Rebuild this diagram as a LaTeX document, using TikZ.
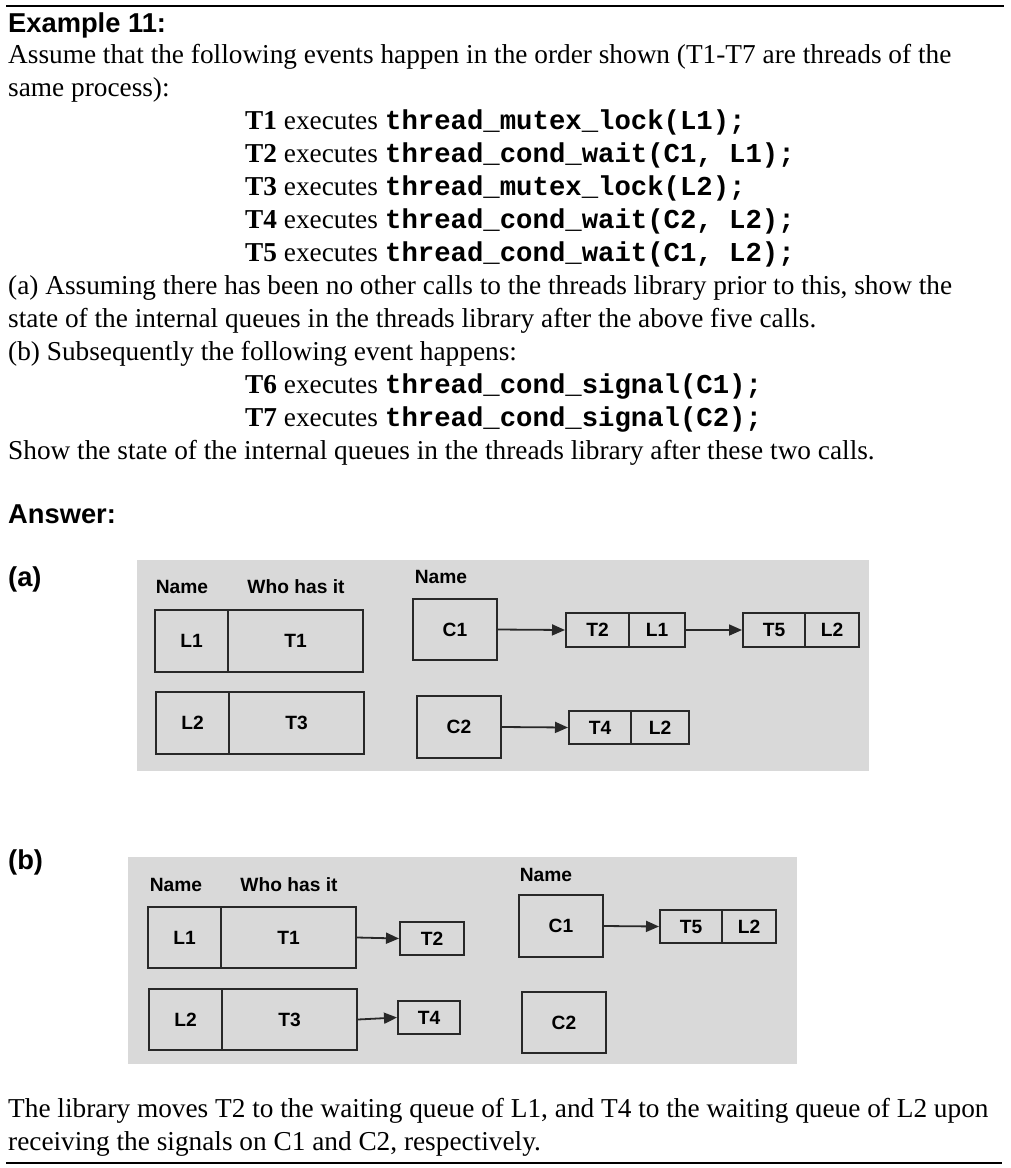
\documentclass[tikz,border=0pt]{standalone}
\usepackage{fontspec}
\setmainfont{Liberation Serif}
\newfontfamily\arialf{Liberation Sans}
\newfontfamily\monof{Liberation Mono}
\usetikzlibrary{arrows.meta}
\definecolor{panelc}{RGB}{217,217,217}
\definecolor{boxc}{RGB}{40,40,40}
\begin{document}
\begin{tikzpicture}[x=1pt,y=-1pt,
  txt/.style={anchor=base west, inner sep=0pt, font=\fontsize{27.3}{33}\selectfont},
  code/.style={anchor=base west, inner sep=0pt, font=\monof\bfseries\fontsize{27.3}{33}\selectfont},
  head/.style={anchor=base west, inner sep=0pt, font=\arialf\bfseries\fontsize{27.3}{33}\selectfont},
  lab/.style={anchor=base, inner sep=0pt, font=\arialf\bfseries\fontsize{19.2}{22}\selectfont},
  cell/.style={draw=boxc, line width=2pt, inner sep=0pt, font=\arialf\bfseries\fontsize{19.2}{22}\selectfont},
  conn/.style={line width=1.8pt, draw=boxc, -{Triangle[length=13pt,width=11pt]}},
  rulel/.style={line width=2.2pt, draw=black}]
\useasboundingbox (0,0) rectangle (1010,1168);
\fill[white] (0,0) rectangle (1010,1168);

% rules
\draw[rulel] (6,6) -- (1004,6);
\draw[rulel] (6,1163) -- (1002,1163);

% header and question text
\node[head] (ex) at (8,32.7) {Example 11:};
\node[txt] (q1) at (8,63) {Assume that the following events happen in the order shown (T1-T7 are threads of the};
\node[txt] (q2) at (8,96) {same process):};
\node[txt] (e1) at (245,129) {\textbf{T1} executes};
\node[code] (c1) at (385,129) {thread\_mutex\_lock(L1);};
\node[txt] (e2) at (245,162) {\textbf{T2} executes};
\node[code] (c2) at (385,162) {thread\_cond\_wait(C1, L1);};
\node[txt] (e3) at (245,195) {\textbf{T3} executes};
\node[code] (c3) at (385,195) {thread\_mutex\_lock(L2);};
\node[txt] (e4) at (245,228) {\textbf{T4} executes};
\node[code] (c4) at (385,228) {thread\_cond\_wait(C2, L2);};
\node[txt] (e5) at (245,261) {\textbf{T5} executes};
\node[code] (c5) at (385,261) {thread\_cond\_wait(C1, L2);};
\node[txt] (qa1) at (8,294) {(a) Assuming there has been no other calls to the threads library prior to this, show the};
\node[txt] (qa2) at (8,327) {state of the internal queues in the threads library after the above five calls.};
\node[txt] (qb1) at (8,360) {(b) Subsequently the following event happens:};
\node[txt] (e6) at (245,393) {\textbf{T6} executes};
\node[code] (c6) at (385,393) {thread\_cond\_signal(C1);};
\node[txt] (e7) at (245,426) {\textbf{T7} executes};
\node[code] (c7) at (385,426) {thread\_cond\_signal(C2);};
\node[txt] (qb2) at (8,459) {Show the state of the internal queues in the threads library after these two calls.};

\node[head] (ans) at (8,523) {Answer:};
\node[head] (pa) at (8,586) {(a)};
\node[head] (pb) at (8,869) {(b)};

% ---------- panel (a)
\fill[panelc] (137,560) rectangle (869,771);
\node[lab] (nma) at (182,593) {Name};
\node[lab] (wha) at (296,593) {Who has it};
\node[cell, minimum width=73pt, minimum height=62pt] (l1a) at (191.5,641) {L1};
\node[cell, minimum width=135pt, minimum height=62pt] (t1a) at (295.5,641) {T1};
\node[cell, minimum width=73pt, minimum height=62pt] (l2a) at (192.5,723) {L2};
\node[cell, minimum width=135pt, minimum height=62pt] (t3a) at (296.5,723) {T3};
\node[lab] (nca) at (441,583) {Name};
\node[cell, minimum width=84pt, minimum height=61pt] (cc1a) at (455,629.5) {C1};
\node[cell, minimum width=63pt, minimum height=34pt] (qt2a) at (597.5,630) {T2};
\node[cell, minimum width=56pt, minimum height=34pt] (ql1a) at (657,630) {L1};
\node[cell, minimum width=62pt, minimum height=34pt] (qt5a) at (774,630) {T5};
\node[cell, minimum width=54pt, minimum height=34pt] (ql2a) at (832,630) {L2};
\node[cell, minimum width=84pt, minimum height=62pt] (cc2a) at (459,727) {C2};
\node[cell, minimum width=62pt, minimum height=33pt] (qt4a) at (600,727.5) {T4};
\node[cell, minimum width=58pt, minimum height=33pt] (ql2b) at (660,727.5) {L2};
\draw[conn] (cc1a.east) -- (qt2a.west);
\draw[conn] (ql1a.east) -- (qt5a.west);
\draw[conn] (cc2a.east) -- (qt4a.west);

% ---------- panel (b)
\fill[panelc] (128,857) rectangle (797,1064);
\node[lab] (nmb) at (176,891) {Name};
\node[lab] (whb) at (289,891) {Who has it};
\node[cell, minimum width=73pt, minimum height=61pt] (l1b) at (184.5,937.5) {L1};
\node[cell, minimum width=135pt, minimum height=61pt] (t1b) at (288.5,937.5) {T1};
\node[cell, minimum width=64pt, minimum height=33pt] (wt2b) at (432,938.5) {T2};
\node[cell, minimum width=73pt, minimum height=61pt] (l2b) at (185.5,1019.5) {L2};
\node[cell, minimum width=135pt, minimum height=61pt] (t3b) at (289.5,1019.5) {T3};
\node[cell, minimum width=62pt, minimum height=33pt] (wt4b) at (429,1017.5) {T4};
\node[lab] (ncb) at (546,881) {Name};
\node[cell, minimum width=84pt, minimum height=62pt] (cc1b) at (561,926) {C1};
\node[cell, minimum width=62pt, minimum height=33pt] (qt5b) at (691,926.5) {T5};
\node[cell, minimum width=54pt, minimum height=33pt] (ql2c) at (749,926.5) {L2};
\node[cell, minimum width=84pt, minimum height=61pt] (cc2b) at (564,1022.5) {C2};
\draw[conn] (t1b.east) -- (wt2b.west);
\draw[conn] (t3b.east) -- (wt4b.west);
\draw[conn] (cc1b.east) -- (qt5b.west);

% closing text
\node[txt] (f1) at (8,1117) {The library moves T2 to the waiting queue of L1, and T4 to the waiting queue of L2 upon};
\node[txt] (f2) at (8,1150) {receiving the signals on C1 and C2, respectively.};
\end{tikzpicture}
\end{document}
